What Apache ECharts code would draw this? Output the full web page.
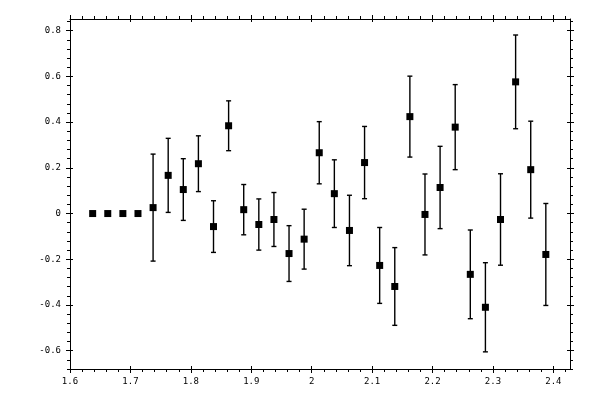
<!DOCTYPE html>
<html>
<head>
<meta charset="utf-8">
<script src="https://cdn.jsdelivr.net/npm/echarts@6/dist/echarts.min.js"></script>
<style>
  html, body { margin: 0; padding: 0; background: #fff; }
  #chart { width: 600px; height: 400px; }
</style>
</head>
<body>
<div id="chart"></div>
<script>
// measured points (x, y, symmetric error)
const xValues = [1.6375, 1.6625, 1.6875, 1.7125, 1.7375, 1.7625, 1.7875, 1.8125, 1.8375, 1.8625,
                 1.8875, 1.9125, 1.9375, 1.9625, 1.9875, 2.0125, 2.0375, 2.0625, 2.0875, 2.1125,
                 2.1375, 2.1625, 2.1875, 2.2125, 2.2375, 2.2625, 2.2875, 2.3125, 2.3375, 2.3625, 2.3875];
const yValues = [0, 0, 0, 0, 0.026, 0.167, 0.105, 0.218, -0.057, 0.384,
                 0.017, -0.048, -0.026, -0.175, -0.112, 0.266, 0.087, -0.074, 0.223, -0.227,
                 -0.319, 0.424, -0.004, 0.114, 0.378, -0.266, -0.410, -0.026, 0.576, 0.192, -0.179];
const yErrors = [0, 0, 0, 0, 0.234, 0.162, 0.135, 0.122, 0.113, 0.109,
                 0.110, 0.112, 0.118, 0.122, 0.131, 0.136, 0.148, 0.154, 0.158, 0.166,
                 0.170, 0.177, 0.177, 0.180, 0.186, 0.194, 0.195, 0.200, 0.205, 0.212, 0.223];

// tick labels
const xTicks = [1.6, 1.7, 1.8, 1.9, 2, 2.1, 2.2, 2.3, 2.4];
const yTicks = [-0.6, -0.4, -0.2, 0, 0.2, 0.4, 0.6, 0.8];

const xRange = [1.6, 2.4275];
const yRange = [-0.68, 0.851];

// minor ticks: 5 per major step, kept inside the visible range
function minorTicks(majors, parts, range) {
    const step = (majors[1] - majors[0]) / parts;
    const out = [];
    const first = Math.ceil(range[0] / step - 1e-6);
    const last = Math.floor(range[1] / step + 1e-6);
    for (let k = first; k <= last; k++) {
        const v = Math.round(k * step * 1000) / 1000;
        if (k % parts !== 0) out.push(v);
    }
    return out;
}
const xMinor = minorTicks(xTicks, 5, xRange);
const yMinor = minorTicks(yTicks, 5, yRange);

const black = '#000';
const labelFont = { color: black, fontFamily: 'DejaVu Sans Mono', fontSize: 9 };

// one axis layer: line / ticks / labels switched on per layer
function axisLayer(isX, position, ticks, o) {
    const range = isX ? xRange : yRange;
    return {
        type: 'value',
        position: position,
        min: range[0],
        max: range[1],
        axisLine: { show: !!o.line, onZero: false, lineStyle: { color: black, width: 1 } },
        axisTick: {
            show: true,
            inside: !!o.inside,
            length: o.len,
            customValues: ticks,
            lineStyle: { color: black, width: 1 }
        },
        axisLabel: Object.assign({
            show: !!o.labels,
            customValues: ticks,
            margin: isX ? 8 : 9,
            showMinLabel: true,
            showMaxLabel: true
        }, labelFont),
        splitLine: { show: false },
        minorTick: { show: false }
    };
}

function sideLayers(isX, position, labels) {
    const majors = isX ? xTicks : yTicks;
    const minors = isX ? xMinor : yMinor;
    return [
        axisLayer(isX, position, majors, { line: true, len: 4, labels: labels }),
        axisLayer(isX, position, minors, { len: 3 }),
        axisLayer(isX, position, majors, { len: 3, inside: true })
    ];
}

const pointData = xValues.map((x, i) => [x, yValues[i]]);
const errorData = xValues.map((x, i) => [x, yValues[i], yErrors[i]]);

const chart = echarts.init(document.getElementById('chart'), null, { renderer: 'canvas' });

chart.setOption({
    backgroundColor: '#fff',
    animation: false,
    grid: { left: 70, right: 30, top: 19, bottom: 31, containLabel: false },
    xAxis: [...sideLayers(true, 'bottom', true), ...sideLayers(true, 'top', false)],
    yAxis: [...sideLayers(false, 'left', true), ...sideLayers(false, 'right', false)],
    series: [
        {
            type: 'custom',
            xAxisIndex: 0,
            yAxisIndex: 0,
            data: errorData,
            renderItem: (params, api) => {
                const x = api.value(0), y = api.value(1), e = api.value(2);
                if (!e) return null;
                const top = api.coord([x, y + e]);
                const bot = api.coord([x, y - e]);
                const cap = 2.5;
                const style = { stroke: black, lineWidth: 1.4 };
                return {
                    type: 'group',
                    children: [
                        { type: 'line', shape: { x1: top[0], y1: top[1], x2: bot[0], y2: bot[1] }, style },
                        { type: 'line', shape: { x1: top[0] - cap, y1: top[1], x2: top[0] + cap, y2: top[1] }, style },
                        { type: 'line', shape: { x1: bot[0] - cap, y1: bot[1], x2: bot[0] + cap, y2: bot[1] }, style }
                    ]
                };
            },
            z: 2
        },
        {
            type: 'scatter',
            xAxisIndex: 0,
            yAxisIndex: 0,
            data: pointData,
            symbol: 'rect',
            symbolSize: 7,
            itemStyle: { color: black, opacity: 1 },
            z: 3
        }
    ]
});
</script>
</body>
</html>
